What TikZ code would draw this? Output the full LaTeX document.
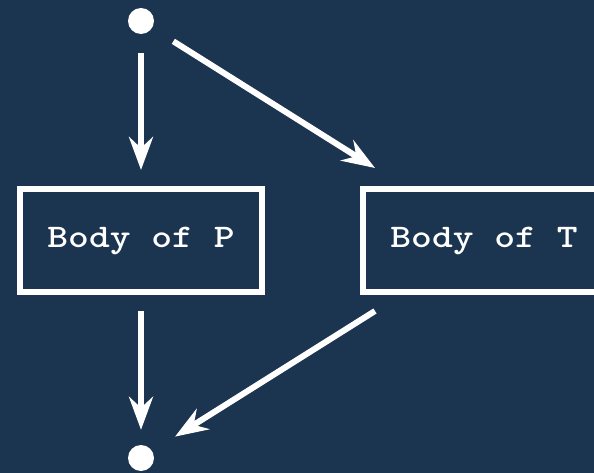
\documentclass[tikz,border=0pt]{standalone}
\usepackage{fontspec}
\newfontfamily\boxfont[FakeStretch=1.2]{lmmonolt10-bold.otf}
\usetikzlibrary{arrows.meta}
\definecolor{navy}{RGB}{27,52,79}
\tikzset{
  dot/.style={circle, fill=white, draw=none, inner sep=0pt, minimum size=26pt},
  bodybox/.style={draw=white, line width=6pt, minimum width=242pt, minimum height=103pt,
    inner sep=0pt, text=white, font=\boxfont\fontsize{33}{40}\selectfont},
  arr/.style={draw=white, line width=6pt,
    -{Stealth[length=33pt, width=24pt, inset=11pt]}}
}
\begin{document}
\begin{tikzpicture}[x=1pt, y=-1pt]
  \fill[navy] (0,0) rectangle (594,473);
  \useasboundingbox (0,0) rectangle (594,473);
  \clip (0,0) rectangle (594,473);
  % entry and exit points
  \node[dot] (top) at (141,21) {};
  \node[dot] (bot) at (141,458) {};
  % the two alternative bodies
  \node[bodybox] (P) at (141,240.5) {Body of P};
  \node[bodybox] (T) at (484,240.5) {Body of T};
  % free ends of the diagonal branches
  \coordinate (tin) at (375,168);
  \coordinate (tout) at (375,311);
  % flow
  \draw[arr, shorten <=19pt, shorten >=16pt] (top) -- (P);
  \draw[arr, shorten <=25pt] (top) -- (tin);
  \draw[arr, shorten <=16pt, shorten >=15pt] (P) -- (bot);
  \draw[arr, shorten >=27pt] (tout) -- (bot);
\end{tikzpicture}
\end{document}
